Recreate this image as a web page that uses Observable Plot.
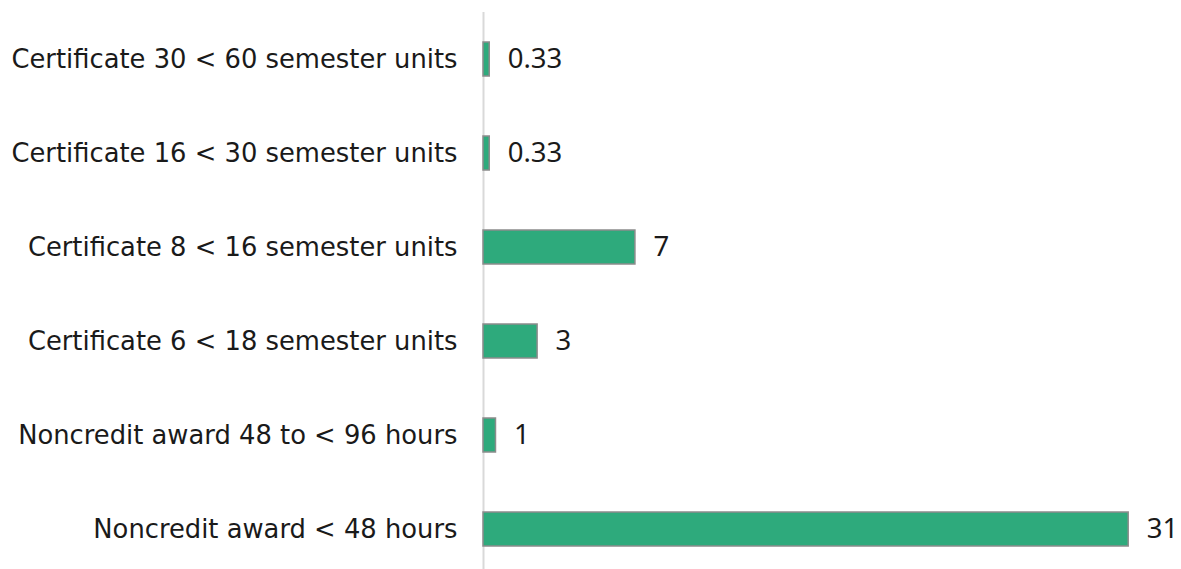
<!DOCTYPE html>
<html><head><meta charset="utf-8">
<script src="https://cdn.jsdelivr.net/npm/d3@7"></script>
<script src="https://cdn.jsdelivr.net/npm/@observablehq/plot@0.6"></script>
<style>body{margin:0;background:#fff}</style>
</head><body><div id="chart"></div>
<script>
const categories = [
  "Certificate 30 < 60 semester units",
  "Certificate 16 < 30 semester units",
  "Certificate 8 < 16 semester units",
  "Certificate 6 < 18 semester units",
  "Noncredit award 48 to < 96 hours",
  "Noncredit award < 48 hours"
];
const values = [0.3, 0.3, 7.3, 2.6, 0.6, 31];
const labels = ["0.33", "0.33", "7", "3", "1", "31"];
const data = categories.map((c, i) => ({category: c, value: values[i], label: labels[i]}));

const chart = Plot.plot({
  width: 1181,
  height: 569,
  marginTop: 12,
  marginBottom: -7,
  marginLeft: 483,
  marginRight: 32,
  style: {fontFamily: "'DejaVu Sans', sans-serif", background: "#fff", overflow: "visible"},
  x: {domain: [0, 32], axis: null},
  y: {domain: categories, paddingInner: 0.64, paddingOuter: 0.32, axis: null},
  marks: [
    Plot.ruleX([0], {stroke: "#d9d9d9", strokeWidth: 2}),
    Plot.barX(data, {x: "value", y: "category", fill: "#2eaa7c", stroke: "#8c8c8c", strokeWidth: 1.5}),
    Plot.text(data, {x: 0, y: "category", text: "category", textAnchor: "end", dx: -26, fontSize: 25.8, fill: "#1a1a1a"}),
    Plot.text(data, {x: "value", y: "category", text: "label", textAnchor: "start", dx: 18, fontSize: 27.5, fontFamily: "'Noto Sans', sans-serif", fill: "#1a1a1a"})
  ]
});
document.getElementById("chart").append(chart);
</script>
</body></html>
